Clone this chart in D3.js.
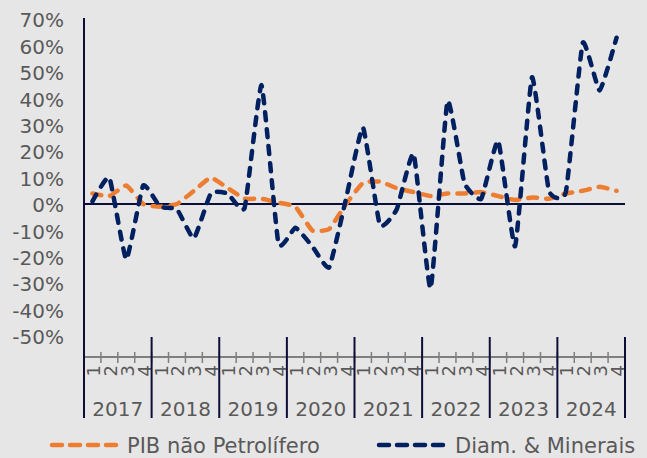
<!DOCTYPE html>
<html>
<head>
<meta charset="utf-8">
<script src="https://cdn.jsdelivr.net/npm/d3@7"></script>
<style>
	body { margin: 0; background: #e7e6e6; }
	svg { display: block; font-family: "DejaVu Sans", Verdana, sans-serif; }
	.tickLabel { fill: #595959; font-size: 20px; }
	.legendText { fill: #595959; font-size: 21px; }
</style>
</head>
<body>
<div id="chart"></div>
<script>
var years = ["2017", "2018", "2019", "2020", "2021", "2022", "2023", "2024"];
var quarters = ["1", "2", "3", "4"];
var yTicks = [0.7, 0.6, 0.5, 0.4, 0.3, 0.2, 0.1, 0, -0.1, -0.2, -0.3, -0.4, -0.5];

var pibNaoPetrolifero = [
	0.04, 0.03, 0.07, 0.00, -0.01, 0.00, 0.05, 0.10,
	0.06, 0.02, 0.02, 0.005, -0.01, -0.10, -0.095, 0.00,
	0.08, 0.085, 0.06, 0.045, 0.03, 0.04, 0.04, 0.045,
	0.03, 0.015, 0.025, 0.02, 0.04, 0.05, 0.065, 0.05
];
var diamMinerais = [
	0.01, 0.10, -0.21, 0.07, -0.01, -0.02, -0.13, 0.04,
	0.04, -0.015, 0.45, -0.15, -0.09, -0.16, -0.24, 0.02,
	0.29, -0.08, -0.02, 0.19, -0.32, 0.39, 0.08, 0.02,
	0.24, -0.16, 0.48, 0.05, 0.045, 0.61, 0.43, 0.63
];

var seriesNames = ["PIB não Petrolífero", "Diam. & Minerais"];
var seriesColors = ["#ed7d31", "#002060"];

var width = 647,
	height = 458,
	plotLeft = 84,
	plotRight = 625,
	axisBottom = 418;

var periods = [];
years.forEach(function(y) {
	quarters.forEach(function(q) { periods.push(y + "-" + q); });
});

var xScale = d3.scaleBand()
	.domain(periods)
	.range([plotLeft, plotRight])
	.padding(0)
;

var yearScale = d3.scaleBand()
	.domain(years)
	.range([plotLeft, plotRight])
	.padding(0)
;

var yScale = d3.scaleLinear()
	.domain([-0.5, 0.7])
	.range([336, 19.2])
;

var svg = d3.select("#chart")
	.append("svg")
	.attr("width", width)
	.attr("height", height)
;

svg.append("rect")
	.attr("width", width)
	.attr("height", height)
	.attr("fill", "#e7e6e6")
;

/*
	Y axis labels
*/
svg.append("g")
	.selectAll("text")
	.data(yTicks)
	.enter()
	.append("text")
	.attr("class", "tickLabel")
	.attr("x", 64)
	.attr("y", function(d) { return yScale(d) + 1; })
	.attr("dy", "0.36em")
	.attr("text-anchor", "end")
	.text(function(d) { return d3.format(".0%")(d).replace("−", "-"); })
;

/*
	Category axis: quarter ticks, quarter labels, year bands
*/
var catAxis = svg.append("g");

catAxis.append("line")
	.attr("x1", plotLeft)
	.attr("x2", plotRight)
	.attr("y1", 357)
	.attr("y2", 357)
	.attr("stroke", "#7f7f7f")
	.attr("stroke-width", 2)
;

catAxis.selectAll("line.qtick")
	.data(periods)
	.enter()
	.append("line")
	.attr("class", "qtick")
	.attr("x1", function(d) { return xScale(d) + xScale.bandwidth(); })
	.attr("x2", function(d) { return xScale(d) + xScale.bandwidth(); })
	.attr("y1", 352)
	.attr("y2", 363)
	.attr("stroke", "#7f7f7f")
	.attr("stroke-width", 1.5)
;

// quarter digits, turned on their side like the original
catAxis.append("g")
	.selectAll("text")
	.data(periods)
	.enter()
	.append("text")
	.attr("transform", function(d) {
		return "translate(" + (xScale(d) + xScale.bandwidth() / 2 + 1) + ",365) rotate(-90)";
	})
	.attr("fill", "#595959")
	.attr("font-size", "18px")
	.attr("text-anchor", "end")
	.attr("dy", "0.36em")
	.text(function(d) { return d.split("-")[1]; })
;

catAxis.selectAll("line.ysep")
	.data(years)
	.enter()
	.append("line")
	.attr("class", "ysep")
	.attr("x1", function(d) { return yearScale(d) + yearScale.bandwidth(); })
	.attr("x2", function(d) { return yearScale(d) + yearScale.bandwidth(); })
	.attr("y1", 337)
	.attr("y2", axisBottom)
	.attr("stroke", "#0d0d3a")
	.attr("stroke-width", 2)
;

catAxis.selectAll("text.year")
	.data(years)
	.enter()
	.append("text")
	.attr("class", "tickLabel year")
	.attr("x", function(d) { return yearScale(d) + yearScale.bandwidth() / 2; })
	.attr("y", 416)
	.attr("text-anchor", "middle")
	.text(function(d) { return d; })
;

/*
	Value axis line and zero line
*/
svg.append("line")
	.attr("x1", plotLeft)
	.attr("x2", plotLeft)
	.attr("y1", 18)
	.attr("y2", axisBottom)
	.attr("stroke", "#0d0d3a")
	.attr("stroke-width", 2)
;

svg.append("line")
	.attr("x1", plotLeft)
	.attr("x2", plotRight)
	.attr("y1", yScale(0))
	.attr("y2", yScale(0))
	.attr("stroke", "#0d0d3a")
	.attr("stroke-width", 2)
;

/*
	Series lines
*/
var line = d3.line()
	.x(function(d, i) { return xScale(periods[i]) + xScale.bandwidth() / 2; })
	.y(function(d) { return yScale(d); })
	.curve(d3.curveCardinal.tension(0.6))
;

var allSeries = [pibNaoPetrolifero, diamMinerais];

svg.append("g")
	.selectAll("path")
	.data(allSeries)
	.enter()
	.append("path")
	.attr("d", line)
	.attr("fill", "none")
	.attr("stroke", function(d, i) { return seriesColors[i]; })
	.attr("stroke-width", 4.5)
	.attr("stroke-linecap", "round")
	.attr("stroke-dasharray", function(d, i) { return i === 0 ? "9,9" : "8,9"; })
;

/*
	Legend
*/
var legendPos = [{x: 50, text: 127}, {x: 377, text: 455}];

var legend = svg.append("g")
	.selectAll("g")
	.data(seriesNames)
	.enter()
	.append("g")
;

legend.append("line")
	.attr("x1", function(d, i) { return legendPos[i].x + 2; })
	.attr("x2", function(d, i) { return legendPos[i].x + 68; })
	.attr("y1", 445)
	.attr("y2", 445)
	.attr("stroke", function(d, i) { return seriesColors[i]; })
	.attr("stroke-width", 4.5)
	.attr("stroke-linecap", "round")
	.attr("stroke-dasharray", "10,8")
;

legend.append("text")
	.attr("class", "legendText")
	.attr("x", function(d, i) { return legendPos[i].text; })
	.attr("y", 445)
	.attr("dy", "0.36em")
	.text(function(d) { return d; })
;
</script>
</body>
</html>
